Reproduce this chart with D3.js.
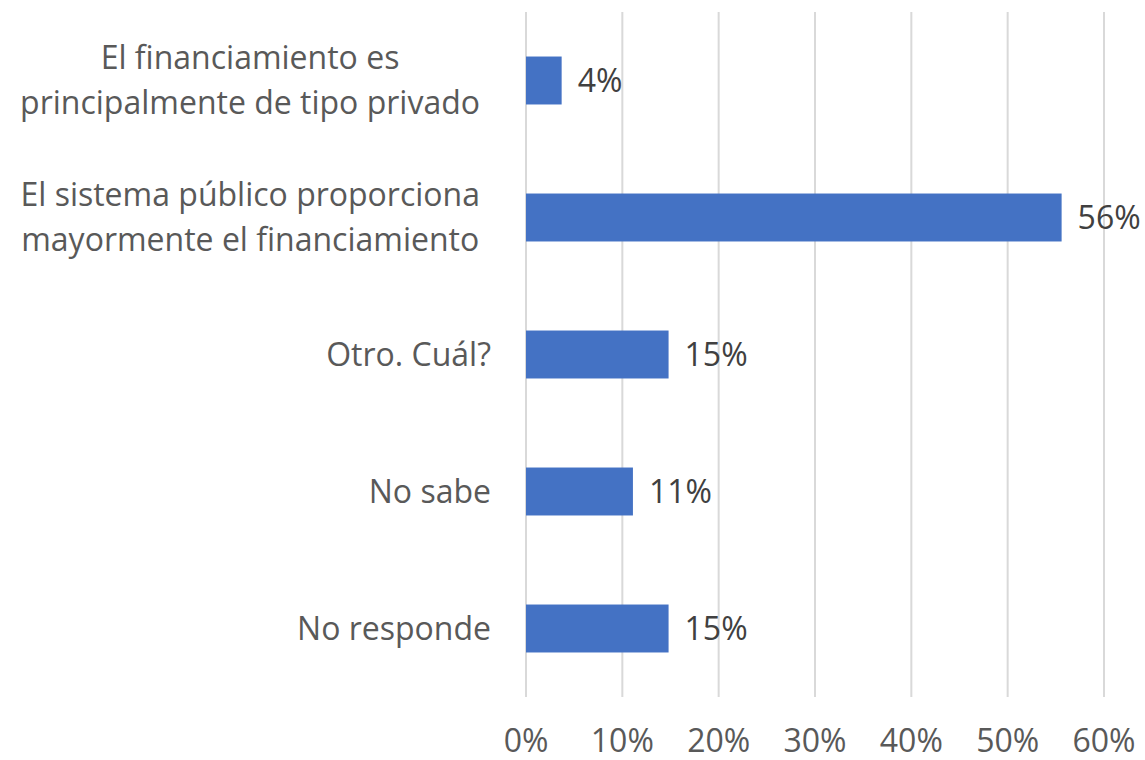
<!DOCTYPE html>
<html>
<head>
<meta charset="utf-8">
<script src="https://cdn.jsdelivr.net/npm/d3@7"></script>
<style>
  html, body { margin: 0; padding: 0; background: #ffffff; }
  svg { display: block; }
</style>
</head>
<body>
<div id="chart"></div>
<script>
// Категории (сверху вниз) и значения
const categories = [
    "El financiamiento es principalmente de tipo privado",
    "El sistema público proporciona mayormente el financiamiento",
    "Otro. Cuál?",
    "No sabe",
    "No responde"
];
const categoryLines = [
    ["El financiamiento es", "principalmente de tipo privado"],
    ["El sistema público proporciona", "mayormente el financiamiento"],
    ["Otro. Cuál?"],
    ["No sabe"],
    ["No responde"]
];
const values = [0.037, 0.556, 0.148, 0.111, 0.148];
const valueLabels = ["4%", "56%", "15%", "11%", "15%"];
const ticks = [0, 0.1, 0.2, 0.3, 0.4, 0.5, 0.6];

const width = 1145;
const height = 760;
const fontFamily = "'Open Sans', sans-serif";
const fontSize = 32;

const svg = d3.select('#chart').append('svg')
    .attr('width', width)
    .attr('height', height);

// Шкалы
const xScale = d3.scaleLinear()
    .domain([0, 0.6])
    .range([526, 1104]);

const yScale = d3.scaleBand()
    .domain(categories)
    .range([12, 697])
    .paddingInner(0.65)
    .paddingOuter(0.325);

// Вертикальные линии сетки
svg.selectAll('.grid-line')
    .data(ticks)
    .enter()
    .append('line')
    .attr('class', 'grid-line')
    .attr('x1', d => xScale(d))
    .attr('x2', d => xScale(d))
    .attr('y1', 12)
    .attr('y2', 697)
    .style('stroke', '#d9d9d9')
    .style('stroke-width', 2);

// Подписи оси X
svg.selectAll('.x-label')
    .data(ticks)
    .enter()
    .append('text')
    .attr('class', 'x-label')
    .attr('x', d => xScale(d))
    .attr('y', 741)
    .attr('dy', '0.35em')
    .attr('text-anchor', 'middle')
    .text(d => d3.format('.0%')(d))
    .style('fill', '#595959')
    .style('font-family', fontFamily)
    .style('font-size', fontSize + 'px');

// Столбцы
svg.selectAll('.bar')
    .data(categories)
    .enter()
    .append('rect')
    .attr('class', 'bar')
    .attr('x', xScale(0))
    .attr('y', d => yScale(d))
    .attr('width', (d, i) => xScale(values[i]) - xScale(0))
    .attr('height', yScale.bandwidth())
    .attr('fill', '#4472c4');

// Подписи значений
svg.selectAll('.value-label')
    .data(categories)
    .enter()
    .append('text')
    .attr('class', 'value-label')
    .attr('x', (d, i) => xScale(values[i]) + 16)
    .attr('y', d => yScale(d) + yScale.bandwidth() / 2)
    .attr('dy', '0.35em')
    .text((d, i) => valueLabels[i])
    .style('fill', '#404040')
    .style('font-family', fontFamily)
    .style('font-size', fontSize + 'px');

// Подписи категорий (многострочные, центрированные внутри блока)
const lineHeight = 45;
categories.forEach((cat, i) => {
    const lines = categoryLines[i];
    const cy = yScale(cat) + yScale.bandwidth() / 2;
    const g = svg.append('g').attr('class', 'y-label');
    const texts = lines.map((line, j) => g.append('text')
        .attr('y', cy + (j - (lines.length - 1) / 2) * lineHeight)
        .attr('dy', '0.35em')
        .attr('text-anchor', 'middle')
        .text(line)
        .style('fill', '#595959')
        .style('font-family', fontFamily)
        .style('font-size', fontSize + 'px'));
    const maxW = d3.max(texts, t => t.node().getComputedTextLength());
    const right = lines.length > 1 ? 480 : 491;
    texts.forEach(t => t.attr('x', right - maxW / 2));
});
</script>
</body>
</html>
